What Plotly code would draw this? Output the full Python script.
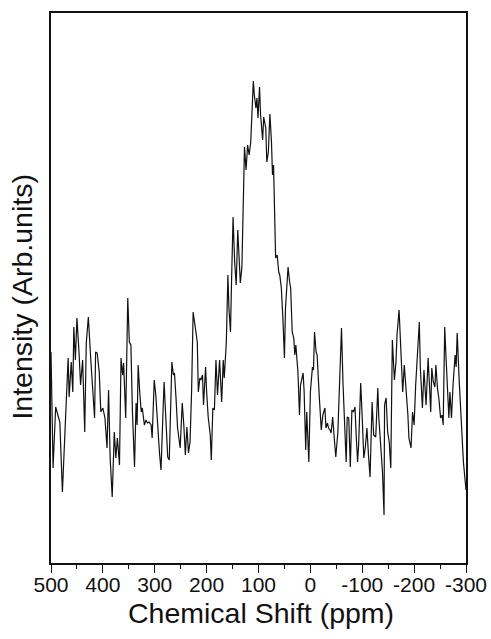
import plotly.graph_objects as go

# Chemical shift (ppm) and intensity (arbitrary units)
shift_ppm = [
    500, 499, 496, 491, 486, 483, 478, 475, 472, 467, 465, 461, 458, 456, 453, 450,
    446, 443, 439, 435, 432, 428, 423, 419, 416, 414, 411, 407, 404, 400, 396, 392,
    389, 386, 382, 378, 375, 372, 368, 365, 362, 360, 356, 352, 349, 346, 343, 339,
    336, 334, 332, 329, 326, 324, 320, 317, 314, 311, 307, 305, 301, 298, 294, 291,
    288, 285, 282, 278, 275, 272, 269, 267, 264, 262, 259, 256, 251, 247, 244, 241,
    238, 235, 232, 229, 226, 218, 216, 213, 211, 208, 206, 202, 200, 197, 193, 191,
    188, 185, 182, 179, 175, 171, 168, 166, 162, 159, 157, 154, 152, 149, 146, 143,
    140, 137, 135, 132, 130, 127, 124, 121, 118, 115, 113, 110, 108, 105, 103, 101,
    98, 96, 92, 90, 86, 84, 81, 78, 75, 73, 71, 69, 67, 64, 61, 59,
    56, 53, 50, 48, 45, 43, 40, 38, 35, 32, 30, 28, 24, 21, 19, 14,
    12, 9, 7, 3, 0, -4, -6, -8, -11, -13, -17, -21, -24, -28, -30, -33,
    -35, -38, -40, -43, -46, -49, -53, -56, -60, -63, -66, -69, -71, -74, -77, -80,
    -83, -86, -88, -91, -93, -97, -100, -103, -106, -109, -112, -115, -119, -122, -126, -130,
    -132, -136, -139, -142, -143, -146, -149, -152, -155, -158, -160, -162, -165, -167, -171, -174,
    -176, -178, -181, -184, -188, -190, -194, -197, -200, -203, -206, -210, -212, -216, -219, -223,
    -227, -229, -232, -234, -237, -240, -242, -245, -248, -251, -254, -256, -259, -261, -264, -267,
    -269, -272, -275, -279, -281, -283, -287, -291, -295, -300,
]
intensity = [
    211, 171, 95, 156, 145, 141, 71, 105, 141, 205, 166, 201, 171, 236, 203, 245,
    211, 178, 203, 131, 220, 246, 201, 171, 145, 211, 210, 191, 151, 155, 145, 115,
    173, 105, 66, 131, 105, 125, 98, 205, 188, 200, 145, 265, 221, 218, 151, 96,
    160, 138, 198, 171, 151, 155, 138, 143, 140, 141, 138, 125, 183, 168, 131, 111,
    93, 145, 181, 138, 106, 103, 165, 201, 188, 190, 165, 135, 115, 160, 138, 108,
    136, 110, 121, 171, 251, 221, 171, 185, 183, 188, 158, 196, 171, 146, 128, 103,
    155, 153, 203, 168, 203, 161, 203, 185, 221, 288, 255, 231, 281, 346, 301, 278,
    333, 298, 280, 296, 341, 416, 393, 418, 408, 421, 445, 482, 468, 455, 465, 445,
    476, 448, 423, 446, 435, 401, 411, 449, 421, 388, 398, 361, 305, 308, 291, 288,
    275, 245, 205, 255, 285, 296, 281, 275, 231, 225, 208, 218, 191, 148, 178, 190,
    171, 113, 151, 101, 171, 196, 193, 231, 211, 208, 168, 133, 148, 155, 135, 140,
    135, 133, 130, 146, 125, 106, 131, 175, 235, 178, 128, 101, 146, 145, 96, 153,
    151, 156, 131, 101, 118, 180, 145, 105, 116, 135, 108, 86, 161, 128, 126, 175,
    145, 108, 91, 48, 158, 165, 131, 121, 95, 223, 201, 183, 201, 228, 253, 221,
    195, 171, 198, 178, 148, 125, 115, 151, 138, 178, 206, 241, 195, 155, 193, 158,
    205, 178, 151, 195, 181, 176, 198, 175, 163, 145, 148, 138, 236, 211, 178, 145,
    171, 145, 178, 208, 196, 230, 181, 138, 101, 73,
]

x_ticks = [500, 400, 300, 200, 100, 0, -100, -200, -300]
x_tick_labels = ["500", "400", "300", "200", "100", "0", "-100", "-200", "-300"]

FONT = "Liberation Sans, Arial, sans-serif"

fig = go.Figure()
fig.add_trace(go.Scatter(
    x=shift_ppm, y=intensity, mode="lines",
    line=dict(color="#111111", width=1.2),
    hoverinfo="skip", showlegend=False,
))

fig.update_layout(
    width=491, height=639,
    margin=dict(l=51, r=25, t=13, b=76, autoexpand=False),
    paper_bgcolor="white", plot_bgcolor="white",
    font=dict(family=FONT, color="#111111"),
    xaxis=dict(
        range=[500, -300], showgrid=False, zeroline=False, automargin=False,
        showline=True, linecolor="#111111", linewidth=1.5, mirror=True,
        tickmode="array", tickvals=x_ticks, ticktext=x_tick_labels,
        ticks="outside", ticklen=8, tickwidth=1.3, tickcolor="#111111",
        ticklabelstandoff=-6,
        tickfont=dict(size=21, family=FONT, color="#111111"),
        minor=dict(dtick=50, ticks="outside", ticklen=4, tickwidth=1.2, tickcolor="#111111"),
    ),
    yaxis=dict(
        range=[0, 550], showgrid=False, zeroline=False, automargin=False,
        showline=True, linecolor="#111111", linewidth=1.5, mirror=True,
        showticklabels=False, ticks="",
    ),
    annotations=[
        dict(text="Chemical Shift (ppm)", xref="paper", yref="paper",
             x=0.507, y=-0.09, xanchor="center", yanchor="middle",
             showarrow=False, font=dict(size=28.5, family=FONT, color="#111111")),
        dict(text="Intensity (Arb.units)", xref="paper", yref="paper",
             x=-0.069, y=0.485, xanchor="center", yanchor="middle", textangle=-90,
             showarrow=False, font=dict(size=28.5, family=FONT, color="#111111")),
    ],
)

fig.write_html(
    "out.html",
    config={"displayModeBar": False},
    post_script="document.body.style.margin='0';document.body.style.overflow='hidden';",
)
